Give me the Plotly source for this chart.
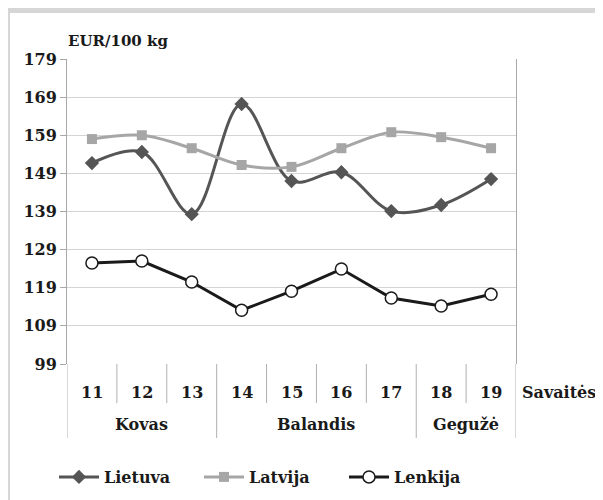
import plotly.graph_objects as go

weeks = [11, 12, 13, 14, 15, 16, 17, 18, 19]
months = ["Kovas", "Kovas", "Kovas", "Balandis", "Balandis", "Balandis", "Balandis", "Gegužė", "Gegužė"]
lietuva = [151.7, 154.6, 138.3, 167.2, 147.0, 149.3, 139.1, 140.7, 147.5]
latvija = [158.0, 159.0, 155.6, 151.2, 150.7, 155.6, 159.8, 158.5, 155.6]
lenkija = [125.5, 126.0, 120.5, 113.1, 118.1, 123.9, 116.3, 114.2, 117.3]
y_ticks = [99, 109, 119, 129, 139, 149, 159, 169, 179]

OFF = 8  # page body margin
W, H = 603 - OFF, 540   # taller than the window so the legend never pushes margins
L, R, T, B = 67, 516, 59, 364   # plot area in page pixels
FONT = "DejaVu Serif"
TXT = "#1a1a1a"


def px_x(p):
    return (p - L) / (R - L)


def px_y(p):
    return (B - p) / (B - T)


fig = go.Figure()
fig.add_trace(go.Scatter(
    x=weeks, y=lietuva, name="Lietuva", mode="lines+markers",
    line=dict(color="#555555", width=3, shape="spline", smoothing=1.0),
    marker=dict(symbol="diamond", size=11, color="#555555"),
))
fig.add_trace(go.Scatter(
    x=weeks, y=latvija, name="Latvija", mode="lines+markers",
    line=dict(color="#a6a6a6", width=3, shape="spline", smoothing=1.0),
    marker=dict(symbol="square", size=10, color="#a6a6a6"),
))
fig.add_trace(go.Scatter(
    x=weeks, y=lenkija, name="Lenkija", mode="lines+markers",
    line=dict(color="#1a1a1a", width=3),
    marker=dict(symbol="circle", size=12, color="white",
                line=dict(color="#1a1a1a", width=1.5)),
))

shapes = []
annotations = []
sep_color = "#b0b0b0"
for i in range(len(weeks) + 1):
    xb = weeks[0] - 0.5 + i
    is_month = (i == 0 or i == len(weeks) or months[i - 1] != months[i])
    y_end = 438 if is_month else 403
    shapes.append(dict(type="line", xref="x", yref="paper", x0=xb, x1=xb,
                       y0=0, y1=px_y(y_end), line=dict(color=sep_color, width=1)))

lab_font = dict(family=FONT, size=16, color=TXT, weight="bold")
for w in weeks:
    annotations.append(dict(x=w, y=px_y(392), xref="x", yref="paper", text=str(w),
                            showarrow=False, font=lab_font,
                            xanchor="center", yanchor="middle"))

seen = []
for m in months:
    if m not in seen:
        seen.append(m)
for m in seen:
    ws = [w for w, mm in zip(weeks, months) if mm == m]
    annotations.append(dict(x=sum(ws) / len(ws), y=px_y(424), xref="x", yref="paper", text=m,
                            showarrow=False, font=lab_font,
                            xanchor="center", yanchor="middle"))

annotations.append(dict(x=px_x(520), y=px_y(392), xref="paper", yref="paper", text="Savaitės",
                        showarrow=False, font=lab_font,
                        xanchor="left", yanchor="middle"))
annotations.append(dict(x=px_x(66), y=px_y(41), xref="paper", yref="paper", text="EUR/100 kg",
                        showarrow=False, font=dict(family=FONT, size=15, color=TXT, weight="bold"),
                        xanchor="left", yanchor="middle"))

frame = "#d6d6d6"
shapes.append(dict(type="rect", xref="paper", yref="paper", x0=px_x(OFF), x1=px_x(603),
                   y0=px_y(13), y1=px_y(OFF), fillcolor=frame, line=dict(width=0), layer="below"))
shapes.append(dict(type="rect", xref="paper", yref="paper", x0=px_x(OFF), x1=px_x(10),
                   y0=px_y(520), y1=px_y(OFF), fillcolor=frame, line=dict(width=0), layer="below"))

fig.update_layout(
    width=W, height=H,
    margin=dict(l=L - OFF, r=603 - R, t=T - OFF, b=(H + OFF) - B, pad=0),
    paper_bgcolor="white", plot_bgcolor="white",
    font=dict(family=FONT, size=16, color=TXT),
    showlegend=True,
    legend=dict(orientation="h", x=px_x(54), y=px_y(477), xanchor="left", yanchor="middle",
                font=dict(family=FONT, size=16, color=TXT, weight="bold"),
                entrywidth=90, entrywidthmode="pixels", itemwidth=40,
                bgcolor="rgba(0,0,0,0)"),
    shapes=shapes,
    annotations=annotations,
)
fig.update_xaxes(range=[weeks[0] - 0.5, weeks[-1] + 0.5], showgrid=False, zeroline=False,
                 showticklabels=False, ticks="", showline=False, fixedrange=True)
fig.update_yaxes(range=[y_ticks[0], y_ticks[-1]], tickvals=y_ticks, showgrid=True,
                 gridcolor="#d4d4d4", gridwidth=1, zeroline=False,
                 showline=True, linecolor="#a8a8a8", linewidth=1, mirror=True,
                 ticks="outside", ticklen=6, tickcolor="#a8a8a8",
                 tickfont=dict(family=FONT, size=16, color=TXT, weight="bold"),
                 fixedrange=True)

fig.write_html("out.html")
